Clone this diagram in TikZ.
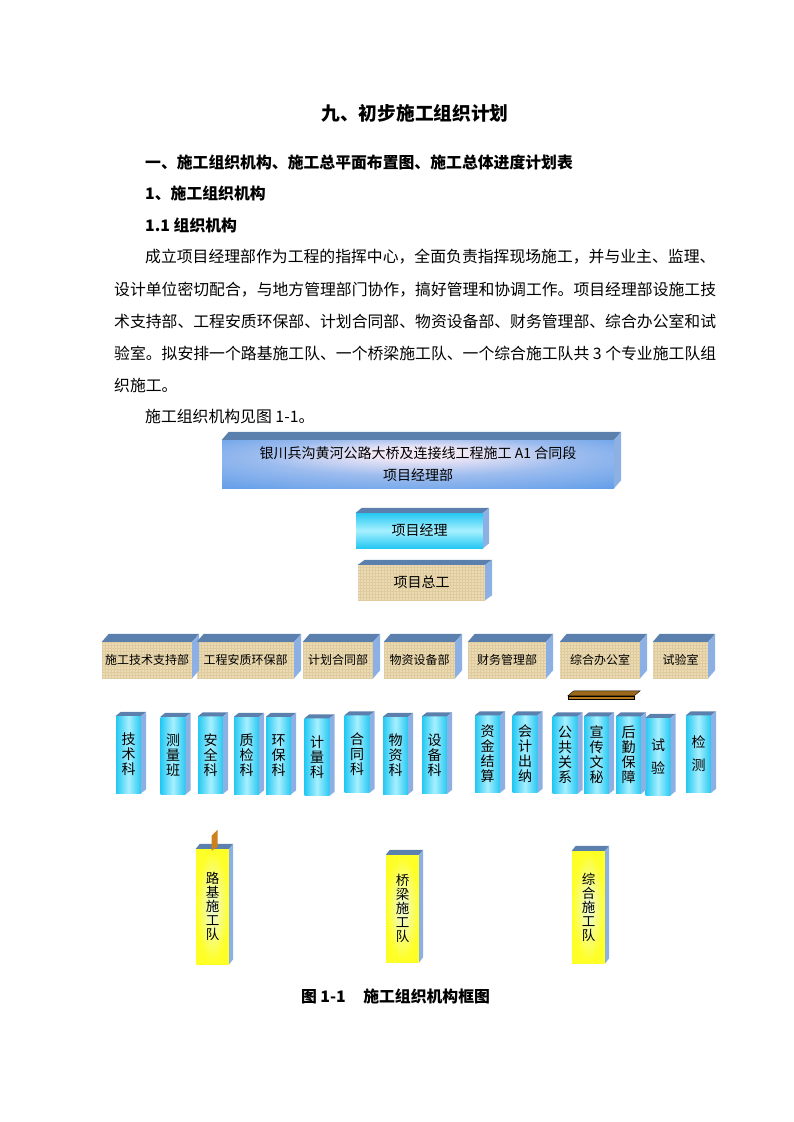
\documentclass[tikz,border=0pt]{standalone}
\usepackage{fontspec}
\setmainfont{Noto Sans CJK SC}
\usetikzlibrary{calc,patterns}

\definecolor{bigout}{RGB}{86,152,232}
\definecolor{bigin}{RGB}{242,232,246}
\definecolor{slatetop}{RGB}{92,128,174}
\definecolor{sidelav}{RGB}{140,176,228}
\definecolor{cyanedge}{RGB}{36,200,242}
\definecolor{cyanmid}{RGB}{168,240,255}
\definecolor{burlap}{RGB}{235,218,178}
\definecolor{burlapline}{RGB}{222,204,160}
\definecolor{teamyellow}{RGB}{255,255,40}
\definecolor{teammid}{RGB}{236,250,226}
\definecolor{boardbrown}{RGB}{184,122,30}
\definecolor{tabbrown}{RGB}{204,128,30}

\pgfdeclareradialshading{bigglow}{\pgfpoint{0bp}{13bp}}{color(0bp)=(bigin); color(6bp)=(bigin); color(20bp)=(bigin!45!bigout); color(42bp)=(bigout); color(50bp)=(bigout)}
\pgfdeclareradialshading{teamglow}{\pgfpoint{0bp}{0bp}}{color(0bp)=(teammid); color(24bp)=(teamyellow); color(50bp)=(teamyellow)}

\tikzstyle{bigbox} = [rectangle, inner sep=0pt, shading=bigglow, align=center,
                  font=\fontsize{14}{22}\selectfont]
\tikzstyle{headbox} = [rectangle, inner sep=0pt, minimum width=127pt, minimum height=35pt,
                  font=\fontsize{14}{16}\selectfont]
\tikzstyle{dept} = [rectangle, inner sep=0pt, fill=burlap, postaction={pattern=grid, pattern color=burlapline},
                  minimum height=36pt, font=\fontsize{12}{14}\selectfont]
\tikzstyle{section} = [rectangle, inner sep=0pt, left color=cyanedge, right color=cyanedge, middle color=cyanmid,
                  minimum width=25pt, minimum height=77pt, align=center, font=\fontsize{14}{15}\selectfont]
\tikzstyle{team} = [rectangle, inner sep=0pt, shading=teamglow, minimum width=33pt, align=center,
                  font=\fontsize{13.5}{14}\selectfont]
\tikzstyle{topface} = [fill=slatetop]
\tikzstyle{sideface} = [fill=sidelav]
\tikzstyle{textline} = [anchor=west, inner sep=0pt, font=\fontsize{15.84}{20}\selectfont]
\tikzstyle{heading} = [anchor=west, inner sep=0pt, font=\fontsize{15.84}{20}\selectfont\bfseries]

\newcommand{\boxfaces}[3]{%
  \fill[topface] (#1.north west) -- ++(#2,#3) -- ($(#1.north east)+(#2,#3)$) -- (#1.north east) -- cycle;
  \fill[sideface] (#1.north east) -- ++(#2,#3) -- ($(#1.south east)+(#2,#3)$) -- (#1.south east) -- cycle;}

\begin{document}
\begin{tikzpicture}[x=1pt, y=-1pt]
        \useasboundingbox (0,0) rectangle (793,1122);
        \fill[white] (0,0) rectangle (793,1122);

        \node [font=\fontsize{18.7}{22}\selectfont\bfseries] (title) at (415,113) {九、初步施工组织计划};
        \node [heading] (h1) at (145,162) {一、施工组织机构、施工总平面布置图、施工总体进度计划表};
        \node [heading] (h2) at (145,193) {1、施工组织机构};
        \node [heading] (h3) at (145,225) {1.1 组织机构};
        \node [textline] (p1) at (145,257) {成立项目经理部作为工程的指挥中心，全面负责指挥现场施工，并与业主、监理、};
        \node [textline] (p2) at (114,290) {设计单位密切配合，与地方管理部门协作，搞好管理和协调工作。项目经理部设施工技};
        \node [textline] (p3) at (114,321) {术支持部、工程安质环保部、计划合同部、物资设备部、财务管理部、综合办公室和试};
        \node [textline] (p4) at (114,353) {\makebox[602pt][s]{验室。拟安排一个路基施工队、一个桥梁施工队、一个综合施工队共 3 个专业施工队组}};
        \node [textline] (p5) at (114,385) {织施工。};
        \node [textline] (p6) at (145,416) {施工组织机构见图 1-1。};

        \node [bigbox, minimum width=392pt, minimum height=48pt] (xmb) at (418,464)
              {银川兵沟黄河公路大桥及连接线工程施工 A1 合同段\\项目经理部};
        \boxfaces{xmb}{7pt}{8pt}
        \node [headbox, top color=cyanedge, bottom color=cyanedge, middle color=cyanmid] (xmjl) at (419.5,530.5) {项目经理};
        \boxfaces{xmjl}{6pt}{5pt}
        \node [headbox, fill=burlap, postaction={pattern=grid, pattern color=burlapline}] (xmzg) at (421.5,582.5) {项目总工};
        \boxfaces{xmzg}{7pt}{5pt}

        \node [dept, minimum width=90pt] (sgjs) at (147,660) {施工技术支持部};
        \node [dept, minimum width=97pt] (gcaz) at (245.5,660) {工程安质环保部};
        \node [dept, minimum width=70pt] (jhht) at (338,660) {计划合同部};
        \node [dept, minimum width=71pt] (wzsb) at (419.5,660) {物资设备部};
        \node [dept, minimum width=78pt] (cwgl) at (507,660) {财务管理部};
        \node [dept, minimum width=80pt] (zhbg) at (600,660) {综合办公室};
        \node [dept, minimum width=55pt] (sys) at (680.5,660) {试验室};
        \foreach \d in {sgjs,gcaz,jhht,wzsb,cwgl,zhbg,sys} {\boxfaces{\d}{7pt}{8pt}}

        \node [rectangle, inner sep=0pt, draw=black, fill=boardbrown, minimum width=66pt, minimum height=3pt] (board) at (601,697.5) {};
        \draw [fill=boardbrown!85!black] (board.north west) -- ++(6pt,5pt) -- ($(board.north east)+(6pt,5pt)$) -- (board.north east) -- cycle;

        \node [section] (jsk) at (128.5,754.5) {技\\术\\科};
        \node [section] (clb) at (173,755.5) {测\\量\\班};
        \node [section] (aqk) at (210.5,755) {安\\全\\科};
        \node [section] (zjk) at (246.5,755.5) {质\\检\\科};
        \node [section] (hbk) at (278.5,755.5) {环\\保\\科};
        \node [section] (jlk) at (317,757) {计\\量\\科};
        \node [section] (htk) at (357,754) {合\\同\\科};
        \node [section] (wzk) at (395.5,755.5) {物\\资\\科};
        \node [section] (sbk) at (434.5,755) {设\\备\\科};
        \node [section] (zjjs) at (487.5,754) {资\\金\\结\\算};
        \node [section] (kjcn) at (525,754) {会\\计\\出\\纳};
        \node [section] (ggxx) at (565,755) {公\\共\\关\\系};
        \node [section] (xcwm) at (596.5,755) {宣\\传\\文\\秘};
        \node [section] (hqbz) at (628.5,755) {后\\勤\\保\\障};
        \node [section] (sy) at (658,756.5) {试\\[8pt]验};
        \node [section] (jc) at (698.5,754) {检\\[8pt]测};
        \foreach \s in {jsk,clb,aqk,zjk,hbk,jlk,htk,wzk,sbk,zjjs,kjcn,ggxx,xcwm,hqbz,sy,jc} {\boxfaces{\s}{5pt}{4pt}}

        \node [team, minimum height=115pt] (ljd) at (212.5,906.5) {路\\基\\施\\工\\队};
        \node [team, minimum height=107pt] (qld) at (402.5,908.5) {桥\\梁\\施\\工\\队};
        \node [team, minimum height=112pt] (zhd) at (588.5,907) {综\\合\\施\\工\\队};
        \foreach \t in {ljd,qld,zhd} {\boxfaces{\t}{4pt}{5pt}}
        \fill [tabbrown] ($(ljd.north)+(-1pt,-2pt)$) -- ++(0pt,15pt) -- ++(6pt,6pt) -- ++(0pt,-17pt) -- cycle;

        \node [font=\fontsize{15.84}{20}\selectfont\bfseries] (caption) at (395.5,996) {图 1-1\hspace{1.1em}施工组织机构框图};
\end{tikzpicture}
\end{document}
